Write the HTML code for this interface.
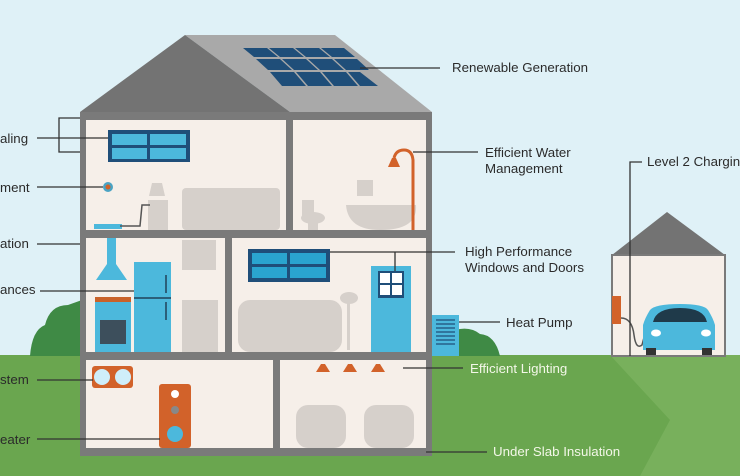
<!DOCTYPE html>
<html><head><meta charset="utf-8"><style>
html,body{margin:0;padding:0;width:740px;height:476px;overflow:hidden;background:#dff1f7}
svg{display:block}
text{font-family:"Liberation Sans",sans-serif;font-size:13.3px;fill:#2b2b2b}
</style></head><body>
<svg width="740" height="476" viewBox="0 0 740 476" xmlns="http://www.w3.org/2000/svg">
<rect width="740" height="476" fill="#dff1f7"/>
<rect y="355" width="740" height="121" fill="#6aa64f"/>
<polygon points="610,355 740,355 740,476 640,476 670,420" fill="#78b05c"/>
<path d="M30,356 Q32,330 45,325 Q50,305 68,305 L82,300 L82,356Z" fill="#3f8a45"/>
<path d="M455,356 L455,330 Q470,326 480,334 Q495,335 500,356Z" fill="#3f8a45"/>
<polygon points="185,35 335,35 432,112 290,112" fill="#a9a9a9"/>
<polygon points="80,112 185,35 290,112" fill="#737373"/>
<g fill="#1f4e79">
<polygon points="243,48 267,48 278,57 254,57"/><polygon points="269,48 293,48 304,57 280,57"/><polygon points="295,48 319,48 330,57 306,57"/><polygon points="321,48 344,48 355,57 332,57"/>
<polygon points="256,59 280,59 292,70 268,70"/><polygon points="282,59 306,59 318,70 294,70"/><polygon points="308,59 332,59 344,70 320,70"/><polygon points="334,59 357,59 369,70 346,70"/>
<polygon points="270,72 294,72 306,86 282,86"/><polygon points="296,72 320,72 332,86 308,86"/><polygon points="322,72 346,72 358,86 334,86"/><polygon points="348,72 360,72 378,86 360,86"/>
</g>
<rect x="80" y="112" width="352" height="344" fill="#7a7a7a"/>
<g fill="#f6efe9">
<rect x="86" y="120" width="200" height="110"/>
<rect x="293" y="120" width="133" height="110"/>
<rect x="86" y="238" width="139" height="114"/>
<rect x="232" y="238" width="194" height="114"/>
<rect x="86" y="360" width="187" height="88"/>
<rect x="280" y="360" width="146" height="88"/>
</g>
<g fill="#d6d0cb">
<rect x="182" y="188" width="98" height="42" rx="4"/>
<rect x="148" y="200" width="20" height="30"/><polygon points="152,183 162,183 165,196 149,196"/>
<rect x="302" y="200" width="12" height="18"/><ellipse cx="313" cy="218" rx="12" ry="6"/><rect x="308" y="218" width="10" height="12"/>
<path d="M346,205 L416,205 Q418,230 380,230 Q348,230 346,205Z"/>
<rect x="357" y="180" width="16" height="16"/>
<rect x="182" y="240" width="34" height="30"/><rect x="182" y="300" width="36" height="52"/>
<rect x="238" y="300" width="104" height="52" rx="12"/>
<rect x="347" y="300" width="3" height="50"/><ellipse cx="349" cy="298" rx="9" ry="6"/>
<rect x="296" y="405" width="50" height="43" rx="12"/><rect x="364" y="405" width="50" height="43" rx="12"/>
</g>
<rect x="108" y="130" width="82" height="32" fill="#1f4e79"/><rect x="112" y="134" width="35" height="11" fill="#4cb8dc"/><rect x="150" y="134" width="36" height="11" fill="#4cb8dc"/><rect x="112" y="148" width="35" height="11" fill="#4cb8dc"/><rect x="150" y="148" width="36" height="11" fill="#4cb8dc"/>
<rect x="248" y="249" width="82" height="33" fill="#1f4e79"/><rect x="252" y="253" width="35" height="11" fill="#2aa4cf"/><rect x="290" y="253" width="36" height="11" fill="#2aa4cf"/><rect x="252" y="267" width="35" height="11" fill="#2aa4cf"/><rect x="290" y="267" width="36" height="11" fill="#2aa4cf"/>
<rect x="371" y="266" width="40" height="86" fill="#4cb8dc"/><rect x="378" y="271" width="26" height="27" fill="#1f4e79"/><g fill="#fff"><rect x="380" y="273" width="10" height="10"/><rect x="392" y="273" width="10" height="10"/><rect x="380" y="285" width="10" height="10"/><rect x="392" y="285" width="10" height="10"/></g>
<rect x="107" y="238" width="9" height="28" fill="#4cb8dc"/><polygon points="96,280 127,280 116,264 107,264" fill="#4cb8dc"/>
<rect x="134" y="262" width="37" height="90" fill="#4cb8dc"/><rect x="134" y="297" width="37" height="2" fill="#2b5f7a"/><rect x="165" y="275" width="2" height="18" fill="#2b5f7a"/><rect x="165" y="302" width="2" height="18" fill="#2b5f7a"/>
<rect x="95" y="297" width="36" height="55" fill="#4cb8dc"/><rect x="95" y="297" width="36" height="5" fill="#c9622a"/><rect x="100" y="320" width="26" height="24" fill="#3d4f5c"/>
<path d="M413,230 L413,160 Q412,150 404,150 Q396,150 394,158" fill="none" stroke="#d2622a" stroke-width="3"/><polygon points="388,167 400,167 396,158 392,158" fill="#d2622a"/>
<circle cx="108" cy="187" r="5" fill="#4aa3c4"/><circle cx="108" cy="187" r="2.5" fill="#d2622a"/>
<rect x="94" y="224" width="28" height="5" fill="#4cb8dc"/><path d="M120,226 L140,226 L142,205 L150,205" fill="none" stroke="#555" stroke-width="1.5"/>
<rect x="92" y="366" width="41" height="22" rx="3" fill="#d2622a"/><circle cx="102" cy="377" r="8" fill="#cfeefa"/><circle cx="123" cy="377" r="8" fill="#cfeefa"/>
<rect x="159" y="384" width="32" height="64" rx="3" fill="#d2622a"/><circle cx="175" cy="394" r="4" fill="#fff"/><circle cx="175" cy="410" r="4" fill="#888"/><circle cx="175" cy="434" r="8" fill="#4cb8dc"/>
<g fill="#d2622a"><polygon points="316,372 330,372 325,364 321,364"/><polygon points="343,372 357,372 352,364 348,364"/><polygon points="371,372 385,372 380,364 376,364"/></g>
<rect x="432" y="315" width="27" height="41" fill="#4cb8dc"/><g stroke="#1f4e79" stroke-width="1.3"><line x1="436" y1="320" x2="455" y2="320"/><line x1="436" y1="324" x2="455" y2="324"/><line x1="436" y1="328" x2="455" y2="328"/><line x1="436" y1="332" x2="455" y2="332"/><line x1="436" y1="336" x2="455" y2="336"/><line x1="436" y1="340" x2="455" y2="340"/><line x1="436" y1="344" x2="455" y2="344"/></g>
<polygon points="612,255 667,212 725,255" fill="#737373"/>
<rect x="612" y="255" width="113" height="101" fill="#f6efe9" stroke="#7a7a7a" stroke-width="2"/>
<rect x="612" y="296" width="9" height="28" fill="#d2622a"/>
<path d="M621,318 Q632,318 634,335 Q636,350 642,345 L646,330" fill="none" stroke="#555" stroke-width="1.5"/>
<path d="M643,350 L643,325 Q645,318 650,310 Q655,304 680,304 Q704,304 708,310 Q713,318 715,325 L715,350Z" fill="#4cb8dc"/>
<path d="M653,322 Q656,308 680,308 Q704,308 707,322Z" fill="#1f3a4a"/>
<ellipse cx="656" cy="333" rx="5" ry="3.5" fill="#fff"/><ellipse cx="706" cy="333" rx="5" ry="3.5" fill="#fff"/>
<rect x="646" y="348" width="10" height="7" fill="#333"/><rect x="702" y="348" width="10" height="7" fill="#333"/>
<g stroke="#333" stroke-width="1.3" fill="none">
<path d="M80,118 L59,118 L59,152 L80,152"/><line x1="37" y1="138" x2="108" y2="138"/>
<line x1="37" y1="187" x2="103" y2="187"/>
<line x1="37" y1="244" x2="80" y2="244"/>
<line x1="40" y1="291" x2="134" y2="291"/>
<line x1="37" y1="380" x2="93" y2="380"/>
<line x1="37" y1="439" x2="160" y2="439"/>
<line x1="360" y1="68" x2="440" y2="68"/>
<line x1="413" y1="152" x2="478" y2="152"/>
<path d="M630,356 L630,162 L642,162"/>
<line x1="330" y1="252" x2="455" y2="252"/><line x1="395" y1="252" x2="395" y2="271"/>
<line x1="459" y1="322" x2="500" y2="322"/>
<line x1="403" y1="368" x2="463" y2="368"/>
<line x1="426" y1="452" x2="487" y2="452"/>
</g>
<text x="0" y="143">aling</text>
<text x="0" y="192">ment</text>
<text x="0" y="248">ation</text>
<text x="0" y="294">ances</text>
<text x="0" y="384">stem</text>
<text x="0" y="444">eater</text>
<text x="452" y="72">Renewable Generation</text>
<text x="485" y="157">Efficient Water</text>
<text x="485" y="173">Management</text>
<text x="647" y="166">Level 2 Chargin</text>
<text x="465" y="256">High Performance</text>
<text x="465" y="272">Windows and Doors</text>
<text x="506" y="327">Heat Pump</text>
<text x="470" y="373" style="fill:#f3f7e8">Efficient Lighting</text>
<text x="493" y="456" style="fill:#f3f7e8">Under Slab Insulation</text>
</svg>
</body></html>
